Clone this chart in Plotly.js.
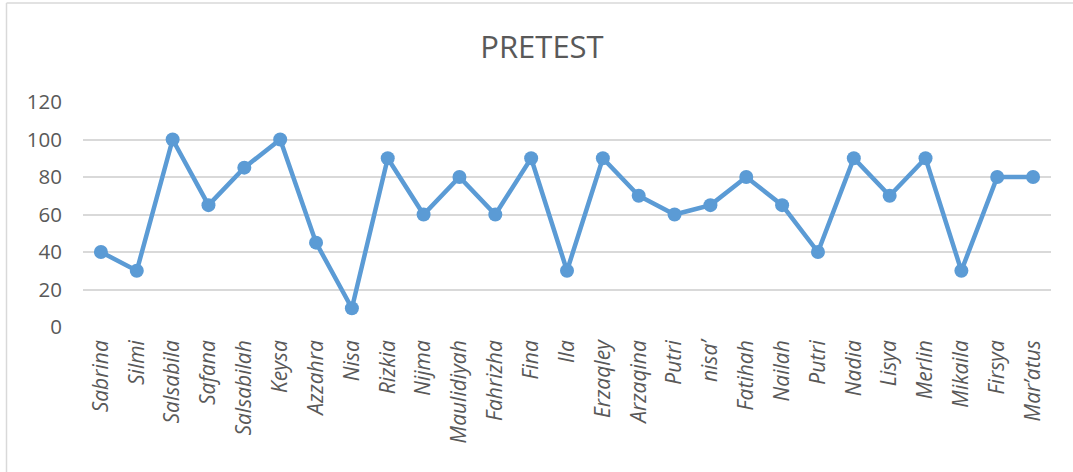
<!DOCTYPE html>
<html>
<head>
<meta charset="utf-8">
<script src="https://cdn.plot.ly/plotly-3.0.1.min.js"></script>
<style>
html,body{margin:0;padding:0;background:#fff;}
#chart{width:1073px;height:472px;}
</style>
</head>
<body>
<div id="chart"></div>
<script>
const names = ["Sabrina","Silmi","Salsabila","Safana","Salsabilah","Keysa","Azzahra","Nisa","Rizkia","Nijma","Maulidiyah","Fahrizha","Fina","Ila","Erzaqley","Arzaqina","Putri","nisa\u2019","Fatihah","Nailah","Putri","Nadia","Lisya","Merlin","Mikaila","Firsya","Mar\u2019atus"];
const scores = [40,30,100,65,85,100,45,10,90,60,80,60,90,30,90,70,60,65,80,65,40,90,70,90,30,80,80];
const yTicks = [0,20,40,60,80,100,120];

const idx = names.map((_, i) => i);
const W = 1073, H = 472;
const L = 83, R = 22, T = 102, B = 145;
const pw = W - L - R, ph = H - T - B;
const px = v => (v - L) / pw;
const py = v => 1 - (v - T) / ph;

const trace = {
  x: idx, y: scores, type: 'scatter', mode: 'lines+markers',
  line: {color: '#5B9BD5', width: 4.5},
  marker: {color: '#5B9BD5', size: 14},
  hoverinfo: 'skip'
};

const layout = {
  width: W, height: H,
  margin: {l: L, r: R, t: T, b: B, pad: 0},
  paper_bgcolor: '#fff', plot_bgcolor: '#fff',
  showlegend: false,
  font: {family: '"Open Sans", sans-serif', color: '#595959'},
  title: {text: 'PRETEST', font: {size: 31, color: '#595959', family: '"Open Sans", sans-serif'},
          x: 542 / W, xref: 'container', xanchor: 'center', y: 1 - 47/H, yref: 'container', yanchor: 'middle'},
  xaxis: {
    range: [-0.5, names.length - 0.5],
    tickmode: 'array', tickvals: idx, ticktext: names.map(n => '<i>' + n + '</i>'),
    tickangle: -90, showgrid: false, zeroline: false, showline: false, ticks: '',
    tickfont: {size: 21, color: '#595959', family: '"Open Sans", sans-serif'},
    ticklabelstandoff: 8, fixedrange: true
  },
  yaxis: {
    range: [0, 120], tickmode: 'array', tickvals: yTicks,
    showgrid: true, gridcolor: '#D9D9D9', gridwidth: 2,
    zeroline: false, showline: false, ticks: '',
    tickfont: {size: 20.5, color: '#595959', family: '"Open Sans", sans-serif'},
    ticklabelstandoff: 20, fixedrange: true
  },
  shapes: [
    {type: 'line', xref: 'paper', yref: 'paper', x0: px(6.5), x1: px(6.5), y0: py(3), y1: py(H + 5), line: {color: '#D9D9D9', width: 1.5}},
    {type: 'line', xref: 'paper', yref: 'paper', x0: px(6.5), x1: px(W + 5), y0: py(3), y1: py(3), line: {color: '#D9D9D9', width: 1.5}}
  ]
};

Plotly.newPlot('chart', [trace], layout, {displayModeBar: false, staticPlot: true});
</script>
</body>
</html>
